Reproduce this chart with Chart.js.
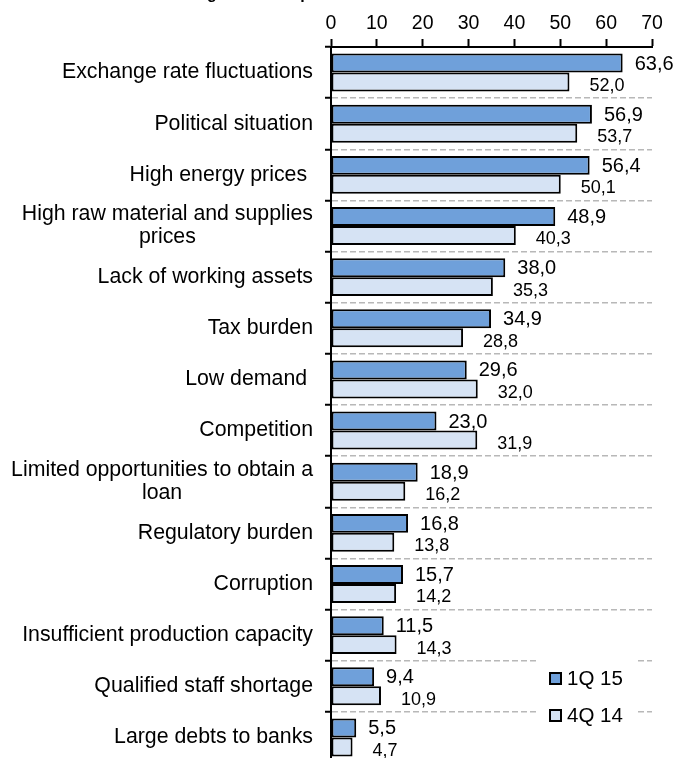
<!DOCTYPE html>
<html>
<head>
<meta charset="utf-8">
<script src="https://cdn.jsdelivr.net/npm/chart.js@4/dist/chart.umd.min.js"></script>
<style>
  html, body { margin: 0; padding: 0; background: #fff; overflow: hidden; }
  #wrap { width: 675px; height: 758px; overflow: hidden; }
  canvas { display: block; }
</style>
</head>
<body>
<div id="wrap"><canvas id="myChart" width="675" height="763"></canvas></div>
<script>

// chart data
var categories = [
	["Exchange rate fluctuations"],
	["Political situation"],
	["High energy prices "],
	["High raw material and supplies", "prices"],
	["Lack of working assets"],
	["Tax burden"],
	["Low demand "],
	["Competition"],
	["Limited opportunities to obtain a", "loan"],
	["Regulatory burden"],
	["Corruption"],
	["Insufficient production capacity"],
	["Qualified staff shortage"],
	["Large debts to banks"]
];
var q1_15 = [ 63.6, 56.9, 56.4, 48.9, 38.0, 34.9, 29.6, 23.0, 18.9, 16.8, 15.7, 11.5, 9.4, 5.5 ];
var q4_14 = [ 52.0, 53.7, 50.1, 40.3, 35.3, 28.8, 32.0, 31.9, 16.2, 13.8, 14.2, 14.3, 10.9, 4.7 ];
var seriesNames = [ "1Q 15", "4Q 14" ];
var xTicks = [ 0, 10, 20, 30, 40, 50, 60, 70 ];
var titleText = "Factors limiting the development";

var FONT = '"Liberation Sans", Arial, sans-serif';
var colors = [ "#6fa0da", "#d6e3f4" ];

var fmt = v => v.toFixed(1).replace(".", ",");

// cut-off title, only the descenders show at the top
var titlePlugin = {
	id: "cutTitle",
	afterDraw: chart => {
		var ctx = chart.ctx;
		ctx.save();
		ctx.font = "bold 16px " + FONT;
		ctx.fillStyle = "#000";
		ctx.textBaseline = "alphabetic";
		ctx.textAlign = "left";
		var x0 = 207 - ctx.measureText("Factors limitin").width;
		ctx.fillText(titleText, x0, -1);
		ctx.restore();
	}
};

// category labels: right aligned block, lines centered inside it
var catLabels = {
	id: "catLabels",
	afterDraw: chart => {
		var ctx = chart.ctx, y = chart.scales.y;
		ctx.save();
		ctx.font = "21.3px " + FONT;
		ctx.fillStyle = "#000";
		ctx.textAlign = "center";
		ctx.textBaseline = "middle";
		categories.forEach( (lines,i)=>{
			var w = Math.max( ...lines.map( s=>ctx.measureText(s).width ) );
			var cx = 313 - w/2;
			var cy = y.getPixelForValue(i);
			var lh = 23;
			lines.forEach( (s,k)=>{
				ctx.fillText( s, cx, cy + (k - (lines.length-1)/2)*lh );
			});
		});
		ctx.restore();
	}
};

// value labels and legend box
var valueLabels = {
	id: "valueLabels",
	afterDatasetsDraw: chart => {
		var ctx = chart.ctx;
		ctx.save();
		ctx.textAlign = "left";
		ctx.textBaseline = "middle";

		// legend background hides the grid lines
		ctx.fillStyle = "#fff";
		ctx.fillRect( 537, 653, 100, 80 );

		ctx.fillStyle = "#000";
		chart.data.datasets.forEach( (ds,di)=>{
			var meta = chart.getDatasetMeta(di);
			ctx.font = ( di==0 ? "20px " : "18px " ) + FONT;
			meta.data.forEach( (bar,j)=>{
				var dx = di==0 ? 12 : 20;
				var dy = di==0 ? 1 : 4;
				ctx.fillText( fmt(ds.data[j]), bar.x + dx, bar.y + dy );
			});
		});

		// legend
		ctx.font = "20.5px " + FONT;
		chart.data.datasets.forEach( (ds,di)=>{
			var ly = 679 + di*37;
			ctx.fillStyle = ds.backgroundColor;
			ctx.fillRect( 550, ly-6, 11, 11 );
			ctx.lineWidth = 2;
			ctx.strokeStyle = "#000";
			ctx.strokeRect( 550, ly-6, 11, 11 );
			ctx.fillStyle = "#000";
			ctx.fillText( ds.label, 567, ly );
		});
		ctx.restore();
	}
};

new Chart( "myChart", {
	type: "bar",
	data: {
		labels: categories,
		datasets: [
			{
				label: seriesNames[0],
				data: q1_15,
				backgroundColor: colors[0],
				borderColor: "#000",
				borderWidth: 2,
				borderSkipped: false
			},
			{
				label: seriesNames[1],
				data: q4_14,
				backgroundColor: colors[1],
				borderColor: "#000",
				borderWidth: 2,
				borderSkipped: false
			}
		]
	},
	options: {
		indexAxis: "y",
		responsive: false,
		animation: false,
		devicePixelRatio: 1,
		layout: { padding: { left: 0, right: 23, top: 0, bottom: 0 } },
		datasets: { bar: { categoryPercentage: 0.742, barPercentage: 1 } },
		plugins: {
			legend: { display: false },
			tooltip: { enabled: false }
		},
		scales: {
			x: {
				position: "top",
				min: 0,
				max: 70,
				afterBuildTicks: s => { s.ticks = xTicks.map( v=>({ value: v }) ); },
				afterFit: s => { s.height = 47; },
				ticks: {
					color: "#000",
					font: { family: FONT, size: 19.5 },
					padding: 4,
					maxRotation: 0
				},
				grid: {
					drawOnChartArea: false,
					tickLength: 8,
					tickColor: "#000",
					tickWidth: 2
				},
				border: { color: "#000", width: 2 }
			},
			y: {
				afterFit: s => { s.width = 331; },
				ticks: { display: false },
				grid: {
					offset: true,
					color: "#b8b8b8",
					lineWidth: 1.5,
					tickLength: 6,
					tickColor: "#000",
					tickWidth: 2,
					tickBorderDash: []
				},
				border: { color: "#000", width: 2, dash: [6,3] }
			}
		}
	},
	plugins: [ titlePlugin, catLabels, valueLabels ]
});

</script>
</body>
</html>
